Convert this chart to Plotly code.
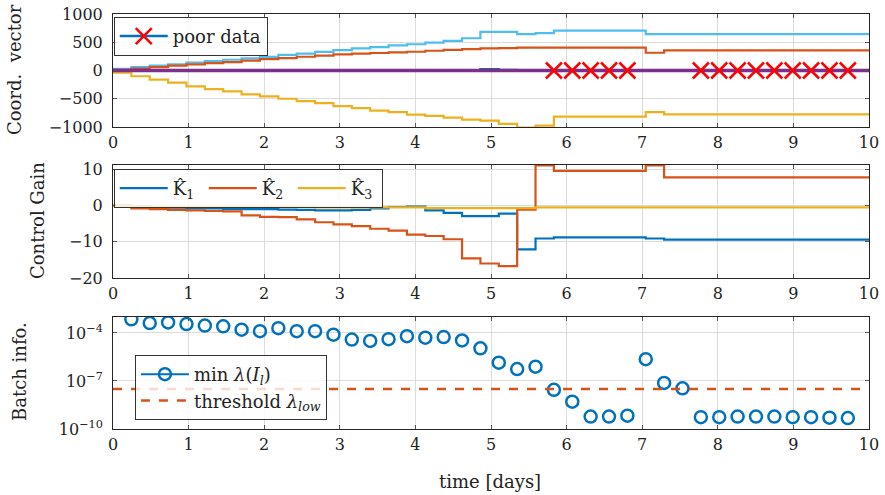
import plotly.graph_objects as go

# ---------------- data ----------------
batch_times = [0.243, 0.486, 0.729, 0.972, 1.215, 1.458, 1.701, 1.944, 2.187, 2.43,
               2.673, 2.916, 3.159, 3.402, 3.645, 3.888, 4.131, 4.374, 4.617, 4.86,
               5.103, 5.346, 5.589, 5.832, 6.075, 6.318, 6.561, 6.804, 7.047, 7.29,
               7.533, 7.776, 8.019, 8.262, 8.505, 8.748, 8.991, 9.234, 9.477, 9.72]
t_start, t_end = 0.0, 10.0

# Coordinate vector components (value held after each batch, 41 intervals)
coord_lightblue = [30, 60, 85, 110, 140, 165, 190, 215, 240, 275, 300, 330, 360, 390, 415,
                   445, 465, 495, 523, 571, 685, 685, 645, 660, 707, 707, 707, 707, 707, 643,
                   643, 643, 643, 643, 643, 643, 643, 643, 643, 643, 643]
coord_orange = [10, 35, 60, 85, 110, 130, 150, 175, 200, 220, 243, 265, 285, 300, 310,
                322, 332, 350, 365, 378, 390, 395, 405, 405, 405, 405, 405, 405, 405, 314,
                357, 357, 357, 357, 357, 357, 357, 357, 357, 357, 357]
coord_yellow = [-36, -102, -161, -215, -280, -329, -370, -423, -459, -500, -543, -577, -630,
                -666, -709, -738, -780, -804, -834, -870, -888, -946, -1010, -977, -816, -816,
                -816, -816, -816, -738, -775, -775, -775, -775, -775, -775, -775, -775, -775,
                -775, -775]
coord_blue = [0] * 20 + [25, 12, 8, 8, 8, 8, 8, 8, 8, 5, 5, 5, 5, 5, 5, 5, 5, 5, 5, 5, 5]
coord_purple = [0] * 41

# Control gains
gain_K1 = [0, -0.3, -0.5, -0.6, -0.8, -0.8, -0.9, -1.0, -1.0, -1.1, -1.2, -1.3, -1.3, -1.2,
           -0.8, -0.4, -0.3, -1.3, -2.0, -2.9, -2.9, -2.2, -12.1, -9.1, -8.8, -8.8, -8.8,
           -8.8, -8.8, -9.1, -9.4, -9.4, -9.4, -9.4, -9.4, -9.4, -9.4, -9.4, -9.4, -9.4, -9.4]
gain_K2 = [0, -0.8, -1.0, -1.2, -1.3, -1.5, -1.6, -2.7, -3.1, -3.2, -3.8, -4.6, -5.2, -5.7,
           -6.4, -6.9, -8.0, -8.4, -9.3, -14.6, -16.0, -16.7, -1.1, 11.1, 9.6, 9.6, 9.6, 9.6,
           9.6, 11.1, 7.8, 7.8, 7.8, 7.8, 7.8, 7.8, 7.8, 7.8, 7.8, 7.8, 7.8]
gain_K3 = [0] + [-0.3] * 10 + [-0.5] * 6 + [-0.7] * 6 + [-0.5] * 18

# Batch information: minimal eigenvalue of information matrix per batch
min_eig = [7.1e-4, 4.2e-4, 4.6e-4, 3.6e-4, 2.9e-4, 2.6e-4, 1.6e-4, 1.3e-4, 2.0e-4, 1.3e-4,
           1.3e-4, 7.9e-5, 3.9e-5, 3.2e-5, 4.1e-5, 6.3e-5, 5.1e-5, 5.6e-5, 3.4e-5, 1.1e-5,
           1.4e-6, 5.6e-7, 7.8e-7, 2.8e-8, 5.1e-9, 6.0e-10, 6.0e-10, 6.8e-10, 2.3e-6, 7.6e-8,
           3.5e-8, 5.5e-10, 5.5e-10, 6.0e-10, 6.0e-10, 6.0e-10, 5.5e-10, 5.5e-10, 5.1e-10,
           4.8e-10]
threshold = 3.16e-8

x_ticks = [0, 1, 2, 3, 4, 5, 6, 7, 8, 9, 10]
y1_ticks = [-1000, -500, 0, 500, 1000]
y2_ticks = [-20, -10, 0, 10]
y3_ticks = [1e-10, 1e-7, 1e-4]
y3_ticktext = ["10<sup>−10</sup>", "10<sup>−7</sup>", "10<sup>−4</sup>"]

# ---------------- styling ----------------
C_BLUE = "#0072BD"
C_ORANGE = "#D95319"
C_YELLOW = "#EDB120"
C_PURPLE = "#7E2F8E"
C_LBLUE = "#4DBEEE"
FONT = "DejaVu Serif"
TXT = "#222222"

stair_x = [t_start] + batch_times + [t_end]


def stair_y(vals):
    return list(vals) + [vals[-1]]


def isolated(xs, ys):
    # interleave None so that no connecting line is drawn between points
    ox, oy = [], []
    for a, b in zip(xs, ys):
        ox += [a, None]
        oy += [b, None]
    return ox, oy


fig = go.Figure()

# ---- top panel ----
for vals, col, w in [(coord_lightblue, C_LBLUE, 2.2), (coord_orange, C_ORANGE, 2.2),
                     (coord_yellow, C_YELLOW, 2.2), (coord_blue, C_BLUE, 2.2),
                     (coord_purple, C_PURPLE, 3.5)]:
    fig.add_trace(go.Scatter(x=stair_x, y=stair_y(vals), mode="lines", line_shape="hv",
                             line=dict(color=col, width=w), showlegend=False,
                             xaxis="x", yaxis="y"))

poor_t = [t for t, v in zip(batch_times, min_eig) if v < threshold]
px_, py_ = isolated(poor_t, [0] * len(poor_t))
fig.add_trace(go.Scatter(x=px_, y=py_, mode="lines+markers", name="poor data",
                         line=dict(color=C_BLUE, width=2.5),
                         marker=dict(symbol="x-thin", size=16, color="red",
                                     line=dict(color="red", width=2.5)),
                         legend="legend", xaxis="x", yaxis="y"))

# ---- middle panel ----
for vals, col, nm in [(gain_K1, C_BLUE, "K̂<sub>1</sub>"), (gain_K2, C_ORANGE, "K̂<sub>2</sub>"),
                      (gain_K3, C_YELLOW, "K̂<sub>3</sub>")]:
    fig.add_trace(go.Scatter(x=stair_x, y=stair_y(vals), mode="lines", line_shape="hv",
                             line=dict(color=col, width=2.2), name=nm,
                             legend="legend2", xaxis="x2", yaxis="y2"))

# ---- bottom panel ----
ex, ey = isolated(batch_times, min_eig)
fig.add_trace(go.Scatter(x=ex, y=ey, mode="lines+markers",
                         name="min <i>λ</i>(<i>I<sub>l</sub></i>)",
                         line=dict(color=C_BLUE, width=2),
                         marker=dict(symbol="circle-open", size=12, color=C_BLUE,
                                     line=dict(color=C_BLUE, width=2.5)),
                         legend="legend3", xaxis="x3", yaxis="y3"))
fig.add_trace(go.Scatter(x=[t_start, t_end], y=[threshold, threshold], mode="lines",
                         name="threshold <i>λ<sub>low</sub></i>",
                         line=dict(color=C_ORANGE, width=2.5, dash="dash"),
                         legend="legend3", xaxis="x3", yaxis="y3"))

axis_common = dict(showline=True, linecolor="#262626", linewidth=1, mirror="ticks",
                   ticks="inside", ticklen=4, tickcolor="#555555", showgrid=True,
                   gridcolor="#dcdcdc", gridwidth=1, zeroline=False,
                   tickfont=dict(family=FONT, size=16, color=TXT))

xax = dict(axis_common, range=[0, 10], tickvals=x_ticks, ticklabelstandoff=1)

legend_common = dict(bgcolor="rgba(255,255,255,0.8)", bordercolor="#333333", borderwidth=1,
                     font=dict(family=FONT, size=18, color=TXT), xanchor="left",
                     yanchor="top", itemwidth=48)

fig.update_layout(
    width=885, height=495,
    margin=dict(l=113, r=16, t=14, b=66, autoexpand=False),
    paper_bgcolor="white", plot_bgcolor="white",
    font=dict(family=FONT, size=16, color=TXT),
    xaxis=dict(xax, anchor="y", domain=[0, 1]),
    xaxis2=dict(xax, anchor="y2", domain=[0, 1]),
    xaxis3=dict(xax, anchor="y3", domain=[0, 1]),
    yaxis=dict(axis_common, domain=[0.7277, 1.0], range=[-1000, 1000], tickvals=y1_ticks,
               ticklabelstandoff=6),
    yaxis2=dict(axis_common, domain=[0.3639, 0.6361], range=[-20, 11.2], tickvals=y2_ticks,
                ticklabelstandoff=6),
    yaxis3=dict(axis_common, domain=[0.0, 0.2699], type="log", range=[-10, -3],
                tickvals=y3_ticks, ticktext=y3_ticktext, ticklabelstandoff=6),
    legend=dict(legend_common, x=0.001, y=0.993),
    legend2=dict(legend_common, x=0.001, y=0.6265, orientation="h", entrywidth=26),
    legend3=dict(legend_common, x=0.029, y=0.1783),
    annotations=[
        dict(text="Coord.  vector", x=15, y=70, showarrow=False, textangle=-90,
             font=dict(family=FONT, size=18, color=TXT)),
        dict(text="Control Gain", x=37, y=221, showarrow=False, textangle=-90,
             font=dict(family=FONT, size=18, color=TXT)),
        dict(text="Batch info.", x=19, y=372, showarrow=False, textangle=-90,
             font=dict(family=FONT, size=18, color=TXT)),
        dict(text="time [days]", x=490, y=481, showarrow=False,
             font=dict(family=FONT, size=18, color=TXT)),
    ],
)

# convert pixel positions of annotations to paper coords
W_PLOT, H_PLOT = 885 - 113 - 16, 495 - 14 - 66
anns = []
for a in fig.layout.annotations:
    a = a.to_plotly_json()
    a["xref"] = "paper"
    a["yref"] = "paper"
    a["x"] = (a["x"] - 113) / W_PLOT
    a["y"] = 1 - (a["y"] - 14) / H_PLOT
    a["xanchor"] = "center"
    a["yanchor"] = "middle"
    anns.append(a)
fig.layout.annotations = anns

fig.write_html("out.html")
